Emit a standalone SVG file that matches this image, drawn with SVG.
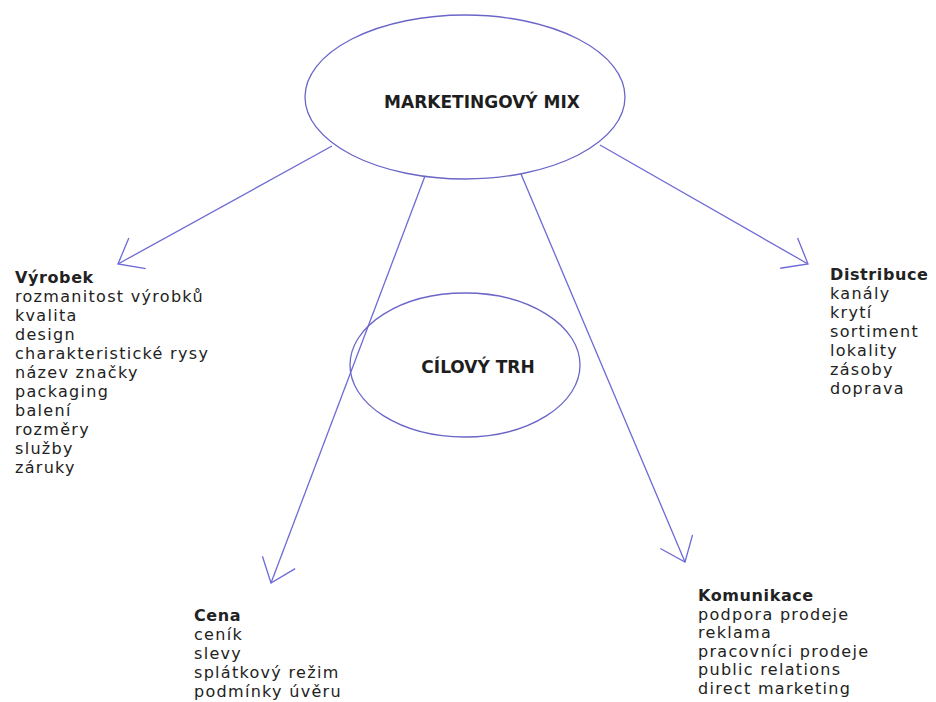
<svg xmlns="http://www.w3.org/2000/svg" width="936" height="702" viewBox="0 0 936 702">
  <style>
    .oval { fill: none; stroke: #6a66c8; stroke-width: 1.3; }
    .link { fill: none; stroke: #6d6ad6; stroke-width: 1.3; }
    .title { font-family: "DejaVu Sans", "Liberation Sans", sans-serif; font-weight: bold; font-size: 17px; fill: #1e1e1e; text-anchor: middle; }
    .list { font-family: "DejaVu Sans", "Liberation Sans", sans-serif; font-size: 16px; letter-spacing: 1.3px; fill: #222; }
    .head { font-weight: bold; letter-spacing: 0.6px; }
  </style>
  <defs>
    <marker id="openArrow" markerUnits="userSpaceOnUse" viewBox="-25 -20 30 40" refX="0" refY="0" markerWidth="30" markerHeight="40" orient="auto" overflow="visible">
      <path d="M-22,-17.5 L0,0 L-22,17.5" fill="none" stroke="#6d6ad6" stroke-width="1.3"/>
    </marker>
  </defs>
  <rect width="936" height="702" fill="#ffffff"/>

  <!-- connectors -->
  <g id="connectors">
    <line class="link" x1="332" y1="146" x2="118" y2="264" marker-end="url(#openArrow)"/>
    <line class="link" x1="600" y1="145" x2="808" y2="264" marker-end="url(#openArrow)"/>
    <line class="link" x1="425" y1="176" x2="271" y2="583" marker-end="url(#openArrow)"/>
    <line class="link" x1="521" y1="174" x2="685" y2="562" marker-end="url(#openArrow)"/>
  </g>

  <!-- central node -->
  <g id="marketing-mix">
    <ellipse class="oval" cx="465" cy="97" rx="160" ry="82" fill="#fff"/>
    <text class="title" x="482" y="108">MARKETINGOVÝ MIX</text>
  </g>

  <!-- target market -->
  <g id="cilovy-trh">
    <ellipse class="oval" cx="465" cy="365" rx="115" ry="72"/>
    <text class="title" x="478" y="373">CÍLOVÝ TRH</text>
  </g>

  <!-- product -->
  <g id="vyrobek">
    <text class="list" x="15" y="283">
      <tspan class="head" x="15" y="283">Výrobek</tspan>
      <tspan x="15" y="302">rozmanitost výrobků</tspan>
      <tspan x="15" y="321">kvalita</tspan>
      <tspan x="15" y="340">design</tspan>
      <tspan x="15" y="359">charakteristické rysy</tspan>
      <tspan x="15" y="378">název značky</tspan>
      <tspan x="15" y="397">packaging</tspan>
      <tspan x="15" y="416">balení</tspan>
      <tspan x="15" y="435">rozměry</tspan>
      <tspan x="15" y="454">služby</tspan>
      <tspan x="15" y="473">záruky</tspan>
    </text>
  </g>

  <!-- distribution -->
  <g id="distribuce">
    <text class="list" x="830" y="280">
      <tspan class="head" x="830" y="280">Distribuce</tspan>
      <tspan x="830" y="299">kanály</tspan>
      <tspan x="830" y="318">krytí</tspan>
      <tspan x="830" y="337">sortiment</tspan>
      <tspan x="830" y="356">lokality</tspan>
      <tspan x="830" y="375">zásoby</tspan>
      <tspan x="830" y="394">doprava</tspan>
    </text>
  </g>

  <!-- price -->
  <g id="cena">
    <text class="list" x="194" y="621">
      <tspan class="head" x="194" y="621">Cena</tspan>
      <tspan x="194" y="640">ceník</tspan>
      <tspan x="194" y="659">slevy</tspan>
      <tspan x="194" y="678">splátkový režim</tspan>
      <tspan x="194" y="697">podmínky úvěru</tspan>
    </text>
  </g>

  <!-- communication -->
  <g id="komunikace">
    <text class="list" x="698" y="601">
      <tspan class="head" x="698" y="601">Komunikace</tspan>
      <tspan x="698" y="619.5">podpora prodeje</tspan>
      <tspan x="698" y="638">reklama</tspan>
      <tspan x="698" y="656.5">pracovníci prodeje</tspan>
      <tspan x="698" y="675">public relations</tspan>
      <tspan x="698" y="693.5">direct marketing</tspan>
    </text>
  </g>
</svg>
